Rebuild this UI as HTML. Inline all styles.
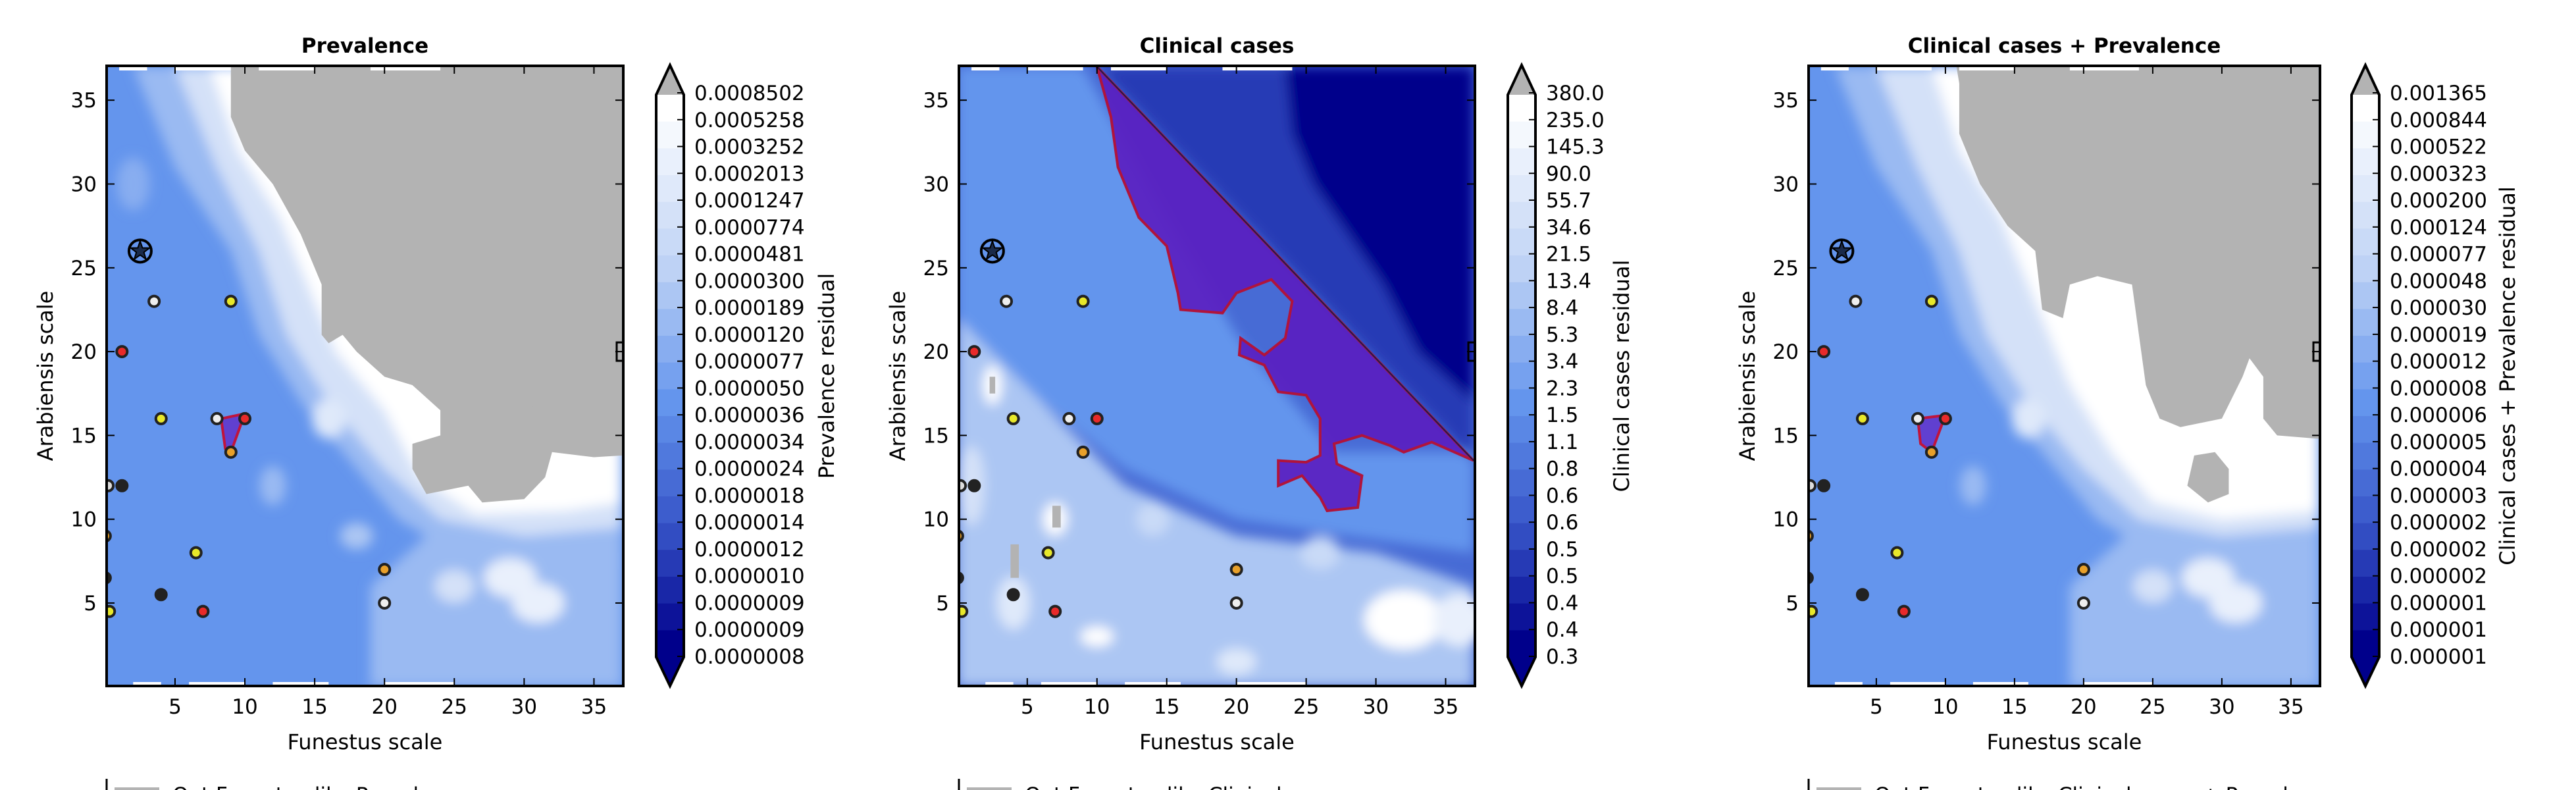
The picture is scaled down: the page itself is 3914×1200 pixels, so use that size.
<!DOCTYPE html>
<html><head><meta charset="utf-8">
<style>
html,body{margin:0;padding:0;background:#fff;}
svg{display:block;}
text{font-family:"DejaVu Sans","Liberation Sans",sans-serif;}
</style></head>
<body>
<svg id="fig" width="3914" height="1200" viewBox="0 0 3914 1200" xmlns="http://www.w3.org/2000/svg">
<defs>
<filter id="blur" x="-10%" y="-10%" width="120%" height="120%"><feGaussianBlur stdDeviation="9"/></filter>
</defs>
</svg>
<script>
// ---- data ----
const xTicks = [5,10,15,20,25,30,35];
const yTicks = [5,10,15,20,25,30,35];
const pointX = [3.5,9,1.2,4,8,10,9,0.2,1.2,0,6.5,20,0,4,20,0.3,7];
const pointY = [23,23,20,16,16,16,14,12,12,9,8,7,6.5,5.5,5,4.5,4.5];
const pointC = ['#eeeeee','#e8e82a','#e82a2a','#e8e82a','#eeeeee','#e82a2a','#e8a02a','#dddddd','#222222','#e8a02a','#e8e82a','#e8a02a','#222222','#222222','#eeeeee','#e8e82a','#e82a2a'];
const starX = 2.5, starY = 26;
const cbLabels1 = ['0.0008502','0.0005258','0.0003252','0.0002013','0.0001247','0.0000774','0.0000481','0.0000300','0.0000189','0.0000120','0.0000077','0.0000050','0.0000036','0.0000034','0.0000024','0.0000018','0.0000014','0.0000012','0.0000010','0.0000009','0.0000009','0.0000008'];
const cbLabels2 = ['380.0','235.0','145.3','90.0','55.7','34.6','21.5','13.4','8.4','5.3','3.4','2.3','1.5','1.1','0.8','0.6','0.6','0.5','0.5','0.4','0.4','0.3'];
const cbLabels3 = ['0.001365','0.000844','0.000522','0.000323','0.000200','0.000124','0.000077','0.000048','0.000030','0.000019','0.000012','0.000008','0.000006','0.000005','0.000004','0.000003','0.000002','0.000002','0.000002','0.000001','0.000001','0.000001'];
// gray masked regions (data units)
const gray1 = [[9,37],[9,34],[10,32],[12,30],[14,27],[15.5,24],[15.5,21],[16,20.5],[17,21],[18,20],[20,18.5],[22,18],[24,16.5],[24,15],[22,14.5],[22,13],[23,11.5],[26,12],[27,11],[30,11.2],[31.5,12.5],[32,14],[35,13.7],[37,13.8],[37,37]];
const gray3 = [[10.8,37],[11,36],[11,33],[12.5,30],[14.5,27.5],[16.5,26],[17,22.5],[18.5,22],[19,24],[21,24.5],[23.5,24],[24,21],[24.5,18],[25.5,16],[27,15.5],[30,16],[31.5,18.5],[32,19.6],[33,18.5],[33,16],[34,15],[37,14.8],[37,37]];
const gray3b = [[27.5,12],[29,11],[30.5,11.5],[30.5,13],[29.5,14],[28,13.8]];
// lighter contour zones (data units)
const light1a = [[2,37],[5,31],[9,26],[11,21],[14,17],[18,13],[21,10],[25,8],[37,7],[37,37]];
const light1b = [[5,37],[8,31],[11,26],[13,21],[16,17],[20,13],[24,10],[30,9],[37,9.5],[37,37]];
const white1 = [[7.5,37],[9.5,32],[12.5,28],[15,23],[16.5,20],[20,16.5],[22.5,12.5],[26.5,10.3],[33,10.5],[37,11],[37,37]];
const lowRight = [[19,0],[19,6],[23,9],[30,9.5],[37,8],[37,0]];
const purpleZone = [[10,37],[11,34],[11.5,31],[13,28],[15,26.3],[15.8,23.5],[16,22.5],[19,22.3],[20,23.5],[22.5,24.3],[24,23],[23.5,20.8],[22,19.8],[20.3,20.8],[20.2,19.8],[22,19.2],[23,17.6],[25,17.4],[26,16],[26,13.8],[25,13.4],[23,13.5],[23,12],[24.7,12.6],[26,11.3],[26.5,10.5],[28.7,10.7],[29,12.6],[27.2,13.3],[27,14.5],[29,15],[31,14.4],[32,14],[34,14.6],[37,13.5]];
const navyZone = [[23.5,37],[24,33],[25.5,30],[28,27],[30.5,24],[33,20],[37,17],[37,37]];
const darkZone = [[10,37],[37,13.5],[37,37]];
const p2mid = [[0,37],[9,37],[15,28],[20,21],[27,14],[37,14],[37,8],[28,9],[20,10],[12,13],[6,17],[0,21]];
const p2light = [[0,22],[6,17],[12,12],[20,9],[30,8],[37,6],[37,0],[0,0]];

const CB_N = 21;
function cbColor(i){ // i=0 top (white) .. CB_N-1 bottom (navy)
  const t=i/(CB_N-1);
  const stops=[[0,[255,255,255]],[0.3,[190,210,245]],[0.55,[100,149,237]],[0.78,[55,85,200]],[1,[0,0,139]]];
  for(let k=0;k<stops.length-1;k++){
    const [a,ca]=stops[k],[b,cb]=stops[k+1];
    if(t>=a&&t<=b){const u=(t-a)/(b-a);return 'rgb('+ca.map((v,j)=>Math.round(v+(cb[j]-v)*u)).join(',')+')';}
  }
  return 'rgb(0,0,139)';
}
const NS='http://www.w3.org/2000/svg';
const svg=document.getElementById('fig');
function el(tag,attrs,parent){const e=document.createElementNS(NS,tag);for(const k in attrs)e.setAttribute(k,attrs[k]);(parent||svg).appendChild(e);return e;}

function panel(cfg){
  const g=el('g',{});
  
  
  const L=cfg.left,R=cfg.right,T=100,B=1042;
  const xs=v=>L+(v-0.1)/(37.1-0.1)*(R-L);
  const ys=v=>B-(v-0.05)/(37.05-0.05)*(B-T);
  const pts=a=>a.map(p=>xs(p[0]).toFixed(1)+','+ys(p[1]).toFixed(1)).join(' ');
  const cid='clip'+cfg.id;
  const cp=el('clipPath',{id:cid},g);el('rect',{x:L,y:T,width:R-L,height:B-T},cp);
  const field=el('g',{'clip-path':'url(#'+cid+')'},g);
  
  
  el('rect',{x:L,y:T,width:R-L,height:B-T,fill:cfg.base},field);
  const blurG=el('g',{filter:'url(#blur)'},field);
  cfg.zones.forEach(z=>{el('polygon',{points:pts(z[0]),fill:z[1]},blurG);});
  cfg.spots.forEach(s=>{el('ellipse',{cx:xs(s[0]),cy:ys(s[1]),rx:s[2],ry:s[3],fill:s[4]},blurG);});
  if(cfg.purple){
    const pp=el('polygon',{points:pts(purpleZone),fill:'#5a1ec0','fill-opacity':0.92,stroke:'#b0143c','stroke-width':4},field);
    
    
    el('line',{x1:xs(10),y1:ys(37),x2:xs(37),y2:ys(13.5),stroke:'#1a1a50','stroke-width':2},field);
  }
  cfg.grays.forEach(gr=>{const p=el('polygon',{points:pts(gr),fill:'#b3b3b3'},field);
    
    });
  (cfg.blobs||[]).forEach(b=>{el('polygon',{points:pts(b[0]),fill:'#6040d0',stroke:'#c0143c','stroke-width':4},field);});
  for(let i=0;i<pointX.length;i++){
    const c=el('circle',{cx:xs(pointX[i]),cy:ys(pointY[i]),r:8,fill:pointC[i],stroke:'#222','stroke-width':4},field);
    
    
  }
  const st=el('g',{},field);
  
  
  const sx=xs(starX),sy=ys(starY);
  el('circle',{cx:sx,cy:sy,r:17,fill:'none',stroke:'#000','stroke-width':4},st);
  let sp='';for(let k=0;k<10;k++){const a=-Math.PI/2+k*Math.PI/5,r=k%2?6:15;sp+=(sx+r*Math.cos(a)).toFixed(1)+','+(sy+r*Math.sin(a)).toFixed(1)+' ';}
  el('polygon',{points:sp,fill:'#1a2a4a',stroke:'#000','stroke-width':2},st);
  [[1,3],[5,9],[11,15],[19,24]].forEach(d=>{el('rect',{x:xs(d[0]),y:T+2,width:xs(d[1])-xs(d[0]),height:5,fill:'#fff'},field);el('rect',{x:xs(d[0]+1),y:B-6,width:xs(d[1]+1)-xs(d[0]+1),height:4,fill:'#fff'},field);});
  el('rect',{x:R-10,y:ys(20)-14,width:14,height:28,fill:'none',stroke:'#000','stroke-width':3},field);
  const fr=el('rect',{x:L,y:T,width:R-L,height:B-T,fill:'none',stroke:'#000','stroke-width':4},g);
  
  
  xTicks.forEach(v=>{const x=xs(v);
    el('line',{x1:x,y1:B,x2:x,y2:B-12,stroke:'#000','stroke-width':2},g);
    el('line',{x1:x,y1:T,x2:x,y2:T+12,stroke:'#000','stroke-width':2},g);
    const t=el('text',{x:x,y:1084,'font-size':31,'text-anchor':'middle'},g);t.textContent=v;
    
    });
  yTicks.forEach(v=>{const y=ys(v);
    el('line',{x1:L,y1:y,x2:L+12,y2:y,stroke:'#000','stroke-width':2},g);
    el('line',{x1:R,y1:y,x2:R-12,y2:y,stroke:'#000','stroke-width':2},g);
    const t=el('text',{x:L-15,y:y+11,'font-size':31,'text-anchor':'end'},g);t.textContent=v;
    
    });
  const ti=el('text',{x:(L+R)/2,y:80,'font-size':31,'font-weight':'bold','text-anchor':'middle'},g);ti.textContent=cfg.title;
  
  
  const xl=el('text',{x:(L+R)/2,y:1138,'font-size':32,'text-anchor':'middle'},g);xl.textContent='Funestus scale';
  
  
  const yx=L-82;
  const yl=el('text',{x:yx,y:571,'font-size':32,'text-anchor':'middle',transform:'rotate(-90 '+yx+' 571)'},g);yl.textContent='Arabiensis scale';
  
  
  const cb=el('g',{},g);
  
  
  const cx0=cfg.cbx,cw=42,cT=144,cB=998,bh=(cB-cT)/CB_N;
  for(let i=0;i<CB_N;i++)el('rect',{x:cx0,y:cT+i*bh,width:cw,height:bh+0.6,fill:cbColor(i)},cb);
  el('polygon',{points:`${cx0},${cT} ${cx0+cw/2},99 ${cx0+cw},${cT}`,fill:'#b3b3b3'},cb);
  el('polygon',{points:`${cx0},${cB} ${cx0+cw/2},1042 ${cx0+cw},${cB}`,fill:'#00008b'},cb);
  el('polygon',{points:`${cx0},${cT} ${cx0+cw/2},99 ${cx0+cw},${cT} ${cx0+cw},${cB} ${cx0+cw/2},1042 ${cx0},${cB}`,fill:'none',stroke:'#000','stroke-width':4},cb);
  const labs=cfg.labels, ls=(997-141)/(labs.length-1);
  for(let i=0;i<labs.length;i++){const y=141+i*ls;
    el('line',{x1:cx0+cw-10,y1:y,x2:cx0+cw,y2:y,stroke:'#000','stroke-width':2},cb);
    const t=el('text',{x:cx0+cw+16,y:y+11,'font-size':31},cb);t.textContent=labs[i];
    
    }
  const lx=cfg.cblx;
  const cl=el('text',{x:lx,y:571,'font-size':32,'text-anchor':'middle',transform:'rotate(-90 '+lx+' 571)'},g);cl.textContent=cfg.cbTitle;
  
  
  const lg=el('g',{},g);
  
  
  el('line',{x1:L,y1:1183,x2:L,y2:1200,stroke:'#000','stroke-width':3},lg);
  el('rect',{x:L+12,y:1196,width:68,height:10,fill:'#b3b3b3'},lg);
  const lt=el('text',{x:L+100,y:1218,'font-size':31},lg);lt.textContent=cfg.legend;
  
  
}
const c=i=>cbColor(i);
panel({id:1,name:'prevalence-panel',left:162,right:947,cbx:997,cblx:1267,title:'Prevalence',cbTitle:'Prevalence residual',labels:cbLabels1,
  base:c(11),legend:'Out Funestus-like Prevalence',
  zones:[[lowRight,c(8)],[light1a,c(8)],[light1b,c(4)],[white1,'#ffffff']],
  spots:[[29,6.5,40,30,c(2)],[25,6,30,25,c(4)],[16,16,25,30,c(3)],[31,5,40,30,c(2)],[2,30,25,40,c(9)],[12,12,20,30,c(8)],[18,9,25,20,c(7)]],
  grays:[gray1,[[30.5,16.8],[31,16.5],[31,18],[30.5,18]]],
  blobs:[[[[8.3,16],[10,16.3],[9,14],[8.6,14.2]]]]});
panel({id:2,name:'clinical-cases-panel',left:1457,right:2241,cbx:2291,cblx:2475,title:'Clinical cases',cbTitle:'Clinical cases residual',labels:cbLabels2,
  base:c(14),legend:'Out Funestus-like Clinical cases',purple:true,
  zones:[[p2mid,c(11)],[p2light,c(7)],[darkZone,c(17)],[navyZone,'#00008b']],
  spots:[[32,4,60,45,'#ffffff'],[36,4,40,40,c(2)],[2.5,18,14,30,'#ffffff'],[7,10,18,25,'#ffffff'],[10,3,25,15,'#ffffff'],[26,8,30,25,c(5)],[14,10,25,25,c(5)],[20,1.5,30,20,c(3)],[1,12,20,60,c(4)],[4,5,25,40,c(3)]],
  grays:[[[2.3,17.5],[2.7,17.5],[2.7,18.5],[2.3,18.5]],[[6.8,9.5],[7.4,9.5],[7.4,10.8],[6.8,10.8]],[[3.8,6.5],[4.4,6.5],[4.4,8.5],[3.8,8.5]]]});
panel({id:3,name:'combined-panel',left:2748,right:3525,cbx:3573,cblx:3821,title:'Clinical cases + Prevalence',cbTitle:'Clinical cases + Prevalence residual',labels:cbLabels3,
  base:c(11),legend:'Out Funestus-like Clinical cases + Prevalence',
  zones:[[lowRight,c(8)],[light1a,c(8)],[light1b,c(4)],[[[9,37],[11,32],[14,28],[17,22],[19,18],[22,14],[25,11],[30,10],[37,10.5],[37,37]],'#ffffff']],
  spots:[[29,6.5,40,30,c(2)],[25,6,30,25,c(4)],[16,16,25,30,c(3)],[31,5,40,30,c(2)],[12,12,20,30,c(8)]],
  grays:[gray3,gray3b],
  blobs:[[[[8,16],[10,16.2],[9,14],[8.2,14.5]]]]});
</script>
</body></html>
